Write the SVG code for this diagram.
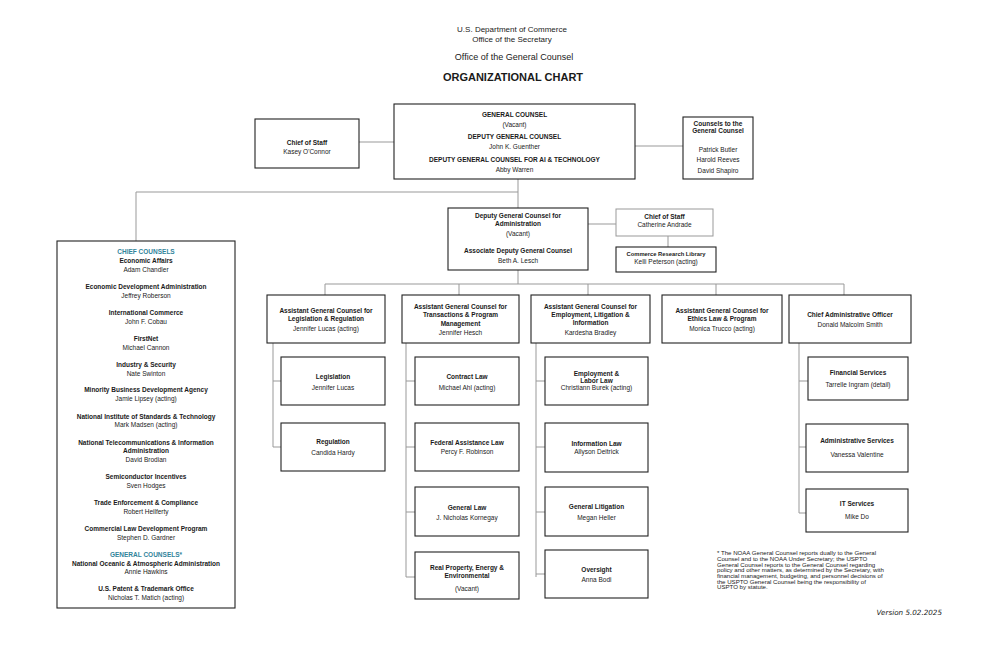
<svg xmlns="http://www.w3.org/2000/svg" width="1000" height="647" viewBox="0 0 1000 647">
<style>
text{font-family:"Liberation Sans",Arial,sans-serif;fill:#1a1a1a;text-anchor:middle}
.b{font-weight:bold;font-size:6.5px}
.r{font-size:6.5px}
.s{font-size:5.8px}
.t{fill:#31849B}
.fn{font-size:6.1px;text-anchor:start}
.box{fill:#fff;stroke:#222;stroke-width:1.1}
.gbox{fill:#fff;stroke:#999;stroke-width:1}
.ln{fill:none;stroke:#999;stroke-width:1}
</style>
<rect width="1000" height="647" fill="#fff"/>
<g id="header">
<text x="512" y="31.5" style="font-size:8px">U.S. Department of Commerce</text>
<text x="512" y="41.5" style="font-size:8px">Office of the Secretary</text>
<text x="514" y="60" style="font-size:9px">Office of the General Counsel</text>
<text x="513" y="81" style="font-size:11px;font-weight:bold">ORGANIZATIONAL CHART</text>
</g>
<g id="connectors">
<path class="ln" d="M359 142H394M635 146H683M518 179V208M518 192H136V241M588 224H616M668 236V247M518 270V284M325 284H844M325 284V295M459 284V295M588 284V295M716 284V295M844 284V295"/>
<path class="ln" d="M273 343V447M273 381H281M273 447H281"/>
<path class="ln" d="M406 343V577M406 381H415M406 447H415M406 512H415M406 577H415"/>
<path class="ln" d="M536 343V577M536 381H545M536 447H545M536 512H545M536 574H545"/>
<path class="ln" d="M799 343V513M799 381H808M799 447H806M799 513H806"/>
</g>
<g id="chief-of-staff">
<rect class="box" x="255" y="119" width="104" height="49"/>
<text class="b" x="307" y="145">Chief of Staff</text>
<text class="r" x="307" y="154">Kasey O'Connor</text>
</g>
<g id="general-counsel">
<rect class="box" x="394" y="104" width="241" height="75"/>
<text class="b" x="514.5" y="116.5">GENERAL COUNSEL</text>
<text class="r" x="514.5" y="126.5">(Vacant)</text>
<text class="b" x="514.5" y="139">DEPUTY GENERAL COUNSEL</text>
<text class="r" x="514.5" y="149">John K. Guenther</text>
<text class="b" x="514.5" y="161.5">DEPUTY GENERAL COUNSEL FOR AI &amp; TECHNOLOGY</text>
<text class="r" x="514.5" y="171.5">Abby Warren</text>
</g>
<g id="counsels">
<rect class="box" x="683" y="117" width="70" height="62"/>
<text class="b" x="718" y="125.5">Counsels to the</text>
<text class="b" x="718" y="133.3">General Counsel</text>
<text class="r" x="718" y="152.3">Patrick Butler</text>
<text class="r" x="718" y="162.3">Harold Reeves</text>
<text class="r" x="718" y="173">David Shapiro</text>
</g>
<g id="chief-counsels">
<rect class="box" x="57" y="241" width="178" height="367"/>
<text class="b t" x="146" y="254.3">CHIEF COUNSELS</text>
<text class="b" x="146" y="262.8">Economic Affairs</text>
<text class="r" x="146" y="271.8">Adam Chandler</text>
<text class="b" x="146" y="289">Economic Development Administration</text>
<text class="r" x="146" y="298">Jeffrey Roberson</text>
<text class="b" x="146" y="315">International Commerce</text>
<text class="r" x="146" y="324">John F. Cobau</text>
<text class="b" x="146" y="340.8">FirstNet</text>
<text class="r" x="146" y="349.8">Michael Cannon</text>
<text class="b" x="146" y="366.6">Industry &amp; Security</text>
<text class="r" x="146" y="375.6">Nate Swinton</text>
<text class="b" x="146" y="392.3">Minority Business Development Agency</text>
<text class="r" x="146" y="401.3">Jamie Lipsey (acting)</text>
<text class="b" x="146" y="418.6">National Institute of Standards &amp; Technology</text>
<text class="r" x="146" y="427.3">Mark Madsen (acting)</text>
<text class="b" x="146" y="444.8">National Telecommunications &amp; Information</text>
<text class="b" x="146" y="453.3">Administration</text>
<text class="r" x="146" y="462.3">David Brodian</text>
<text class="b" x="146" y="479">Semiconductor Incentives</text>
<text class="r" x="146" y="488">Sven Hodges</text>
<text class="b" x="146" y="505">Trade Enforcement &amp; Compliance</text>
<text class="r" x="146" y="514">Robert Heilferty</text>
<text class="b" x="146" y="530.6">Commercial Law Development Program</text>
<text class="r" x="146" y="539.8">Stephen D. Gardner</text>
<text class="b t" x="146" y="556.8">GENERAL COUNSELS*</text>
<text class="b" x="146" y="565.6">National Oceanic &amp; Atmospheric Administration</text>
<text class="r" x="146" y="574.3">Annie Hawkins</text>
<text class="b" x="146" y="590.8">U.S. Patent &amp; Trademark Office</text>
<text class="r" x="146" y="599.8">Nicholas T. Matich (acting)</text>
</g>
<g id="deputy-admin">
<rect class="box" x="448" y="208" width="140" height="62"/>
<text class="b" x="518" y="218">Deputy General Counsel for</text>
<text class="b" x="518" y="226.3">Administration</text>
<text class="r" x="518" y="235.6">(Vacant)</text>
<text class="b" x="518" y="253">Associate Deputy General Counsel</text>
<text class="r" x="518" y="263.3">Beth A. Lesch</text>
</g>
<g id="chief-of-staff-admin">
<rect class="gbox" x="616" y="209" width="97" height="27"/>
<text class="b" x="664.5" y="219">Chief of Staff</text>
<text class="r" x="664.5" y="226.6">Catherine Andrade</text>
</g>
<g id="library">
<rect class="box" x="616" y="247" width="100" height="25"/>
<text class="b s" x="666" y="256.4">Commerce Research Library</text>
<text class="r" x="666" y="264">Kelli Peterson (acting)</text>
</g>
<g id="agc-legislation">
<rect class="box" x="267" y="295" width="118" height="48"/>
<text class="b" x="326" y="313.3">Assistant General Counsel for</text>
<text class="b" x="326" y="321.3">Legislation &amp; Regulation</text>
<text class="r" x="326" y="331.3">Jennifer Lucas (acting)</text>
</g>
<g id="agc-transactions">
<rect class="box" x="402" y="295" width="117" height="48"/>
<text class="b" x="460.5" y="309">Assistant General Counsel for</text>
<text class="b" x="460.5" y="317.3">Transactions &amp; Program</text>
<text class="b" x="460.5" y="325.6">Management</text>
<text class="r" x="460.5" y="335">Jennifer Hesch</text>
</g>
<g id="agc-employment">
<rect class="box" x="531" y="295" width="119" height="48"/>
<text class="b" x="590.5" y="309">Assistant General Counsel for</text>
<text class="b" x="590.5" y="317.3">Employment, Litigation &amp;</text>
<text class="b" x="590.5" y="325.3">Information</text>
<text class="r" x="590.5" y="335">Kardesha Bradley</text>
</g>
<g id="agc-ethics">
<rect class="box" x="662" y="295" width="120" height="48"/>
<text class="b" x="722" y="313.3">Assistant General Counsel for</text>
<text class="b" x="722" y="321.3">Ethics Law &amp; Program</text>
<text class="r" x="722" y="331.3">Monica Trucco (acting)</text>
</g>
<g id="cao">
<rect class="box" x="789" y="295" width="122" height="48"/>
<text class="b" x="850" y="317.3">Chief Administrative Officer</text>
<text class="r" x="850" y="326.6">Donald Malcolm Smith</text>
</g>
<g id="legislation">
<rect class="box" x="281" y="357" width="104" height="48"/>
<text class="b" x="333" y="379">Legislation</text>
<text class="r" x="333" y="390">Jennifer Lucas</text>
</g>
<g id="regulation">
<rect class="box" x="281" y="423" width="104" height="48"/>
<text class="b" x="333" y="444">Regulation</text>
<text class="r" x="333" y="455">Candida Hardy</text>
</g>
<g id="contract-law">
<rect class="box" x="415" y="357" width="104" height="48"/>
<text class="b" x="467" y="379">Contract Law</text>
<text class="r" x="467" y="390">Michael Ahl (acting)</text>
</g>
<g id="federal-assistance-law">
<rect class="box" x="415" y="423" width="104" height="48"/>
<text class="b" x="467" y="445">Federal Assistance Law</text>
<text class="r" x="467" y="454.3">Percy F. Robinson</text>
</g>
<g id="general-law">
<rect class="box" x="415" y="487" width="104" height="49"/>
<text class="b" x="467" y="509.6">General Law</text>
<text class="r" x="467" y="520">J. Nicholas Kornegay</text>
</g>
<g id="real-property">
<rect class="box" x="415" y="552" width="104" height="47"/>
<text class="b" x="467" y="570">Real Property, Energy &amp;</text>
<text class="b" x="467" y="577.6">Environmental</text>
<text class="r" x="467" y="590.6">(Vacant)</text>
</g>
<g id="employment-labor-law">
<rect class="box" x="545" y="357" width="103" height="48"/>
<text class="b" x="596.5" y="375.6">Employment &amp;</text>
<text class="b" x="596.5" y="382.8">Labor Law</text>
<text class="r" x="596.5" y="390">Christiann Burek (acting)</text>
</g>
<g id="information-law">
<rect class="box" x="545" y="423" width="103" height="49"/>
<text class="b" x="596.5" y="445.6">Information Law</text>
<text class="r" x="596.5" y="454">Allyson Deitrick</text>
</g>
<g id="general-litigation">
<rect class="box" x="545" y="487" width="103" height="49"/>
<text class="b" x="596.5" y="509">General Litigation</text>
<text class="r" x="596.5" y="520.3">Megan Heller</text>
</g>
<g id="oversight">
<rect class="box" x="545" y="550" width="103" height="48"/>
<text class="b" x="596.5" y="572.3">Oversight</text>
<text class="r" x="596.5" y="582.3">Anna Bodi</text>
</g>
<g id="financial-services">
<rect class="box" x="808" y="357" width="100" height="43"/>
<text class="b" x="858" y="374.6">Financial Services</text>
<text class="r" x="858" y="386.6">Tarrelle Ingram (detail)</text>
</g>
<g id="administrative-services">
<rect class="box" x="806" y="424" width="102" height="48"/>
<text class="b" x="857" y="443.3">Administrative Services</text>
<text class="r" x="857" y="456.6">Vanessa Valentine</text>
</g>
<g id="it-services">
<rect class="box" x="806" y="489" width="102" height="43"/>
<text class="b" x="857" y="506.3">IT Services</text>
<text class="r" x="857" y="519">Mike Do</text>
</g>
<g id="footnote">
<text class="fn" x="717" y="555.3">* The NOAA General Counsel reports dually to the General</text>
<text class="fn" x="717" y="561">Counsel and to the NOAA Under Secretary; the USPTO</text>
<text class="fn" x="717" y="566.7">General Counsel reports to the General Counsel regarding</text>
<text class="fn" x="717" y="572.3">policy and other matters, as determined by the Secretary, with</text>
<text class="fn" x="717" y="578">financial management, budgeting, and personnel decisions of</text>
<text class="fn" x="717" y="583.7">the USPTO General Counsel being the responsibility of</text>
<text class="fn" x="717" y="589.3">USPTO by statute.</text>
<text x="942" y="614.5" style="font-family:'DejaVu Sans',Verdana,sans-serif;font-style:italic;font-size:7.2px;text-anchor:end">Version 5.02.2025</text>
</g>
</svg>
